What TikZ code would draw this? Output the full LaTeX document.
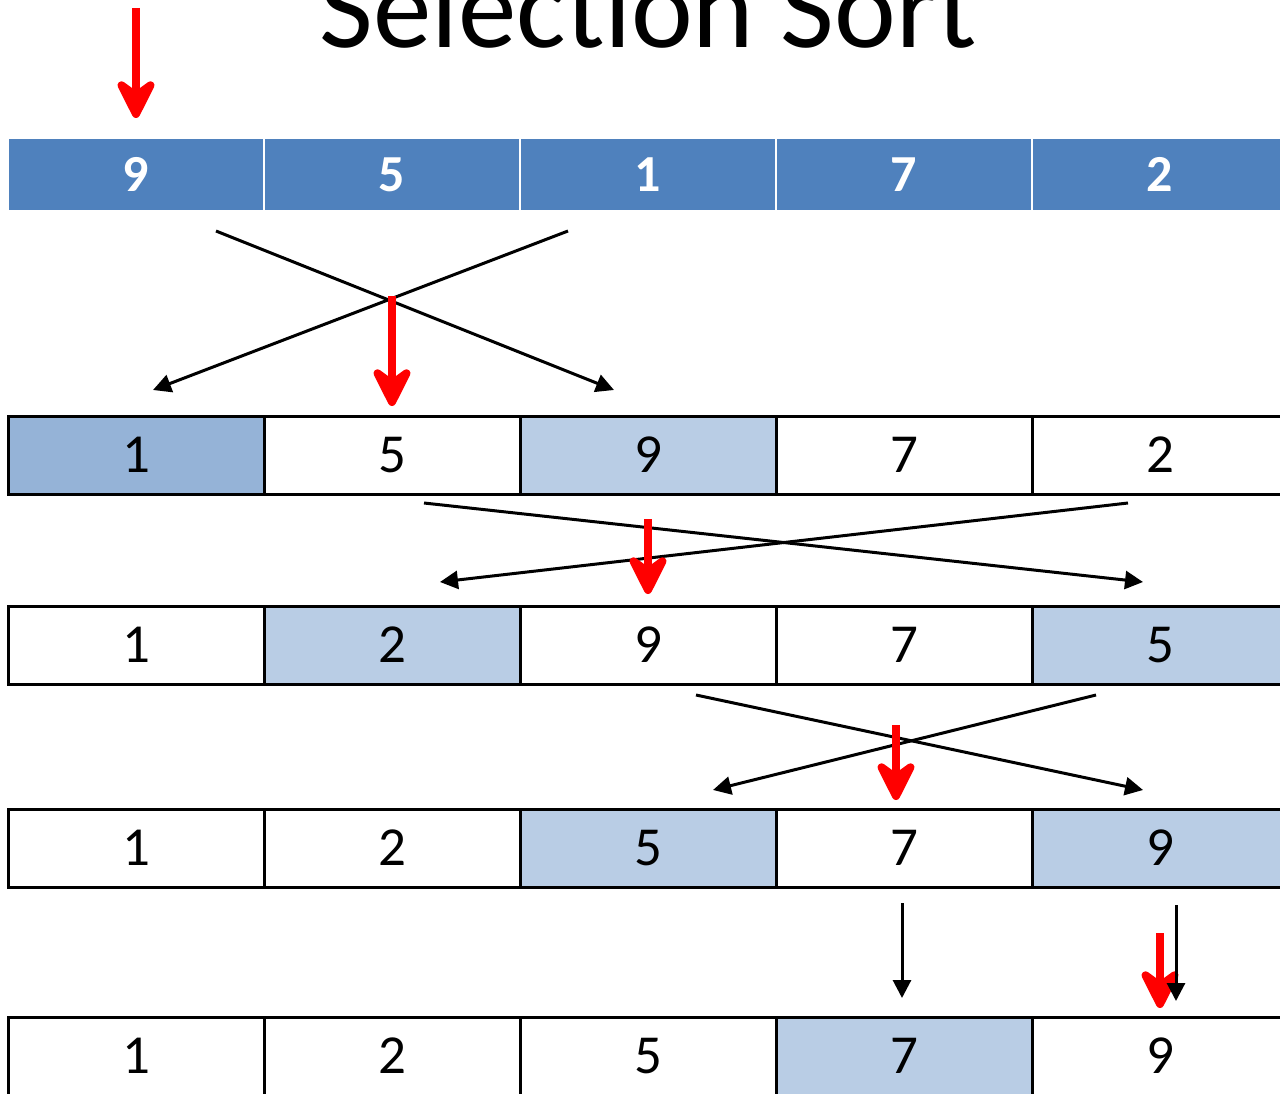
\documentclass[tikz,border=0pt]{standalone}
\usepackage{fontspec}
\setmainfont{Carlito}
\usetikzlibrary{arrows.meta}

\definecolor{headblue}{HTML}{4F81BD}
\definecolor{minblue}{HTML}{95B3D7}
\definecolor{swapblue}{HTML}{B9CDE5}
\definecolor{ptrred}{HTML}{FF0000}

\tikzset{
  cell/.style={draw=black, line width=3pt, minimum width=256pt, minimum height=78pt,
    inner sep=0pt, font=\fontsize{55}{55}\selectfont, text=black},
  headcell/.style={draw=white, line width=2pt, fill=headblue, minimum width=256pt,
    minimum height=73pt, inner sep=0pt, font=\fontsize{52}{52}\selectfont\bfseries, text=white},
  swap/.style={draw=black, line width=3pt, -{Triangle[length=18pt,width=18pt]}},
  pointer/.style={draw=ptrred, line width=8pt,
    -{Stealth[length=50pt,width=50pt,inset=18pt,round]}},
}

\begin{document}
\begin{tikzpicture}[x=1pt,y=-1pt]
\useasboundingbox (0,0) rectangle (1280,1094);
\clip (0,0) rectangle (1280,1094);

% title
\node[anchor=base, font=\fontsize{117}{117}\selectfont] (title) at (648,48) {Selection Sort};

% initial array
\foreach \v [count=\i] in {9,5,1,7,2}
  \node[headcell] (r0c\i) at (136+256*\i-256,174.5) {\v};

% pass 1: 9 and 1 swapped
\node[cell, fill=minblue]  (r1c1) at (136,455) {1};
\node[cell]                (r1c2) at (392,455) {5};
\node[cell, fill=swapblue] (r1c3) at (648,455) {9};
\node[cell]                (r1c4) at (904,455) {7};
\node[cell]                (r1c5) at (1160,455) {2};

% pass 2: 5 and 2 swapped
\node[cell]                (r2c1) at (136,645) {1};
\node[cell, fill=swapblue] (r2c2) at (392,645) {2};
\node[cell]                (r2c3) at (648,645) {9};
\node[cell]                (r2c4) at (904,645) {7};
\node[cell, fill=swapblue] (r2c5) at (1160,645) {5};

% pass 3: 9 and 5 swapped
\node[cell]                (r3c1) at (136,848) {1};
\node[cell]                (r3c2) at (392,848) {2};
\node[cell, fill=swapblue] (r3c3) at (648,848) {5};
\node[cell]                (r3c4) at (904,848) {7};
\node[cell, fill=swapblue] (r3c5) at (1160,848) {9};

% pass 4: sorted
\node[cell]                (r4c1) at (136,1056) {1};
\node[cell]                (r4c2) at (392,1056) {2};
\node[cell]                (r4c3) at (648,1056) {5};
\node[cell, fill=swapblue] (r4c4) at (904,1056) {7};
\node[cell]                (r4c5) at (1160,1056) {9};

% swap arrow end points
\coordinate (sA1) at (216,231);  \coordinate (tA1) at (614,390);
\coordinate (sA2) at (568,231);  \coordinate (tA2) at (153,390);
\coordinate (sB1) at (424,503);  \coordinate (tB1) at (1143,582);
\coordinate (sB2) at (1128,503); \coordinate (tB2) at (440,582);
\coordinate (sC1) at (696,695);  \coordinate (tC1) at (1143,790);
\coordinate (sC2) at (1096,695); \coordinate (tC2) at (713,790);
\coordinate (sD1) at (902,903);  \coordinate (tD1) at (902,998);
\coordinate (sD2) at (1176,905); \coordinate (tD2) at (1176,1001);

% current position pointers
\coordinate (p0s) at (136,8);    \coordinate (p0t) at (136,118);
\coordinate (p1s) at (392,296);  \coordinate (p1t) at (392,406);
\coordinate (p2s) at (648,519);  \coordinate (p2t) at (648,594);
\coordinate (p3s) at (896,725);  \coordinate (p3t) at (896,800);
\coordinate (p4s) at (1160,933); \coordinate (p4t) at (1160,1008);

\draw[swap] (sA1) -- (tA1);
\draw[swap] (sA2) -- (tA2);
\draw[swap] (sB1) -- (tB1);
\draw[swap] (sB2) -- (tB2);
\draw[swap] (sC1) -- (tC1);
\draw[swap] (sC2) -- (tC2);

\draw[pointer] (p0s) -- (p0t);
\draw[pointer] (p1s) -- (p1t);
\draw[pointer] (p2s) -- (p2t);
\draw[pointer] (p3s) -- (p3t);
\draw[pointer] (p4s) -- (p4t);

\draw[swap] (sD1) -- (tD1);
\draw[swap] (sD2) -- (tD2);
\end{tikzpicture}
\end{document}
